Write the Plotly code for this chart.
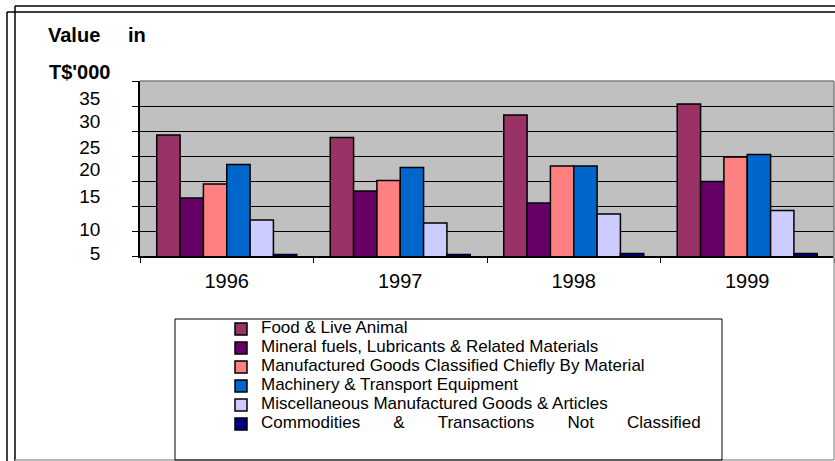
import plotly.graph_objects as go

# ---- data ----
years = ["1996", "1997", "1998", "1999"]
food = [29.2, 28.7, 33.2, 35.4]
mineral = [16.6, 18.0, 15.6, 19.9]
manufactured = [19.4, 20.1, 23.0, 24.8]
machinery = [23.3, 22.7, 23.0, 25.3]
miscellaneous = [12.2, 11.6, 13.4, 14.1]
commodities = [5.3, 5.3, 5.5, 5.5]

series_names = [
    "Food & Live Animal",
    "Mineral fuels, Lubricants & Related Materials",
    "Manufactured Goods Classified Chiefly By Material",
    "Machinery & Transport Equipment",
    "Miscellaneous Manufactured Goods & Articles",
    "Commodities\u00a0\u00a0\u00a0\u00a0\u00a0\u00a0\u00a0&\u00a0\u00a0\u00a0\u00a0\u00a0\u00a0\u00a0Transactions\u00a0\u00a0\u00a0\u00a0\u00a0\u00a0\u00a0Not\u00a0\u00a0\u00a0\u00a0\u00a0\u00a0\u00a0Classified",
]
series_values = [food, mineral, manufactured, machinery, miscellaneous, commodities]
series_colors = ["#993366", "#660066", "#FF8080", "#0066CC", "#CCCCFF", "#000080"]

grid_ticks = [5, 10, 15, 20, 25, 30, 35, 40]
label_texts = ["5", "10", "15", "20", "25", "30", "35"]
label_positions = [5.6, 10.3, 17.0, 22.3, 26.8, 32.0, 36.6]

FONT = "Liberation Sans, Arial, sans-serif"
W, H = 835, 461
L, R, T, B = 140, 1, 81, 205
PW, PH = W - L - R, H - T - B


def px_x(px):
    return (px - L) / PW


def px_y(py):
    return (H - B - py) / PH


fig = go.Figure()
for name, vals, col in zip(series_names, series_values, series_colors):
    fig.add_trace(go.Bar(
        x=years, y=vals,
        name="<span style='font-size:17px'>" + name + "</span>",
        marker=dict(color=col, line=dict(color="black", width=1.5)),
    ))

shapes = []
# outer double frame (black)
for (x0, y0) in [(15, 6), (7, 12)]:
    shapes.append(dict(type="line", xref="paper", yref="paper",
                       x0=px_x(x0), x1=px_x(W + 5), y0=px_y(y0), y1=px_y(y0),
                       line=dict(color="black", width=1.5)))
    shapes.append(dict(type="line", xref="paper", yref="paper",
                       x0=px_x(x0), x1=px_x(x0), y0=px_y(y0), y1=px_y(H + 5),
                       line=dict(color="black", width=1.5)))
# grey inner frame bottom / right
shapes.append(dict(type="line", xref="paper", yref="paper",
                   x0=px_x(15), x1=px_x(834), y0=px_y(460), y1=px_y(460),
                   line=dict(color="#A0A0A0", width=1.5)))
shapes.append(dict(type="line", xref="paper", yref="paper",
                   x0=px_x(834), x1=px_x(834), y0=px_y(256), y1=px_y(460),
                   line=dict(color="#A0A0A0", width=1.5)))
# plot area top / right border (grey)
shapes.append(dict(type="line", xref="paper", yref="paper",
                   x0=0, x1=1, y0=1, y1=1, line=dict(color="#808080", width=1.5)))
shapes.append(dict(type="line", xref="paper", yref="paper",
                   x0=1, x1=1, y0=0, y1=1, line=dict(color="#808080", width=1.5)))
# legend box
shapes.append(dict(type="rect", xref="paper", yref="paper",
                   x0=px_x(175), x1=px_x(722), y0=px_y(319), y1=px_y(460),
                   line=dict(color="black", width=1), fillcolor="rgba(0,0,0,0)"))

fig.update_layout(
    width=W, height=H,
    margin=dict(l=L, r=R, t=T, b=B, pad=0),
    paper_bgcolor="white",
    plot_bgcolor="#C0C0C0",
    barmode="group",
    bargap=0.193,
    bargroupgap=0,
    font=dict(family=FONT, color="black"),
    title=dict(text="<b>Value\u00a0\u00a0\u00a0\u00a0\u00a0in</b>", font=dict(size=20, family=FONT),
               xref="container", yref="container",
               x=48 / W, xanchor="left", y=1 - 34.5 / H, yanchor="middle"),
    xaxis=dict(type="category", range=[-0.5, 3.5], showgrid=False,
               showline=True, linecolor="black", linewidth=1.5,
               ticks="outside", tickson="boundaries", ticklen=5, tickcolor="black",
               tickfont=dict(size=20, family=FONT), ticklabelstandoff=6),
    yaxis=dict(range=[5, 40], tickmode="array",
               tickvals=label_positions, ticktext=label_texts,
               showgrid=False, ticks="", ticklabelstandoff=34,
               tickfont=dict(size=19, family=FONT),
               showline=True, linecolor="black", linewidth=1.5, zeroline=False,
               minor=dict(tickmode="array", tickvals=grid_ticks,
                          showgrid=True, gridcolor="black", gridwidth=1,
                          ticks="outside", ticklen=6, tickcolor="black", tickwidth=1)),
    legend=dict(x=px_x(221), xanchor="left", y=px_y(314.5), yanchor="top",
                bgcolor="rgba(0,0,0,0)", borderwidth=0,
                font=dict(size=11, family=FONT)),
    annotations=[dict(text="<b>T$'000</b>", xref="paper", yref="paper",
                      x=px_x(47), y=px_y(71.5), xanchor="left", yanchor="middle",
                      showarrow=False, font=dict(size=20, family=FONT))],
    shapes=shapes,
)

fig.write_html("out.html",
               config={"displayModeBar": False},
               post_script="document.body.style.margin='0px';document.body.style.overflow='hidden';")
